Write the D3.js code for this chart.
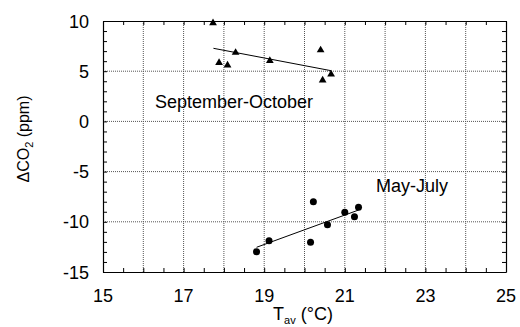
<!DOCTYPE html>
<html>
<head>
<meta charset="utf-8">
<script src="https://cdn.jsdelivr.net/npm/d3@7"></script>
<style>
  body { margin: 0; background: #fff; }
  text { font-family: "Liberation Sans", Arial, sans-serif; fill: #000; }
  .grid line { stroke: #555; stroke-dasharray: 1,1; }
</style>
</head>
<body>
<svg id="chart" width="520" height="327"></svg>
<script>
// Sept-Oct (triangles)
const sepTemp = [17.73, 17.88, 18.09, 18.29, 19.14, 20.40, 20.45, 20.66];
const sepCO2 = [9.8, 5.85, 5.6, 6.85, 6.05, 7.1, 4.1, 4.7];
const sepFit = [[17.74, 7.28], [20.66, 5.05]];

// May-July (circles)
const mayTemp = [18.81, 19.12, 20.15, 20.22, 20.57, 21.0, 21.24, 21.34];
const mayCO2 = [-12.98, -11.88, -12.04, -8.0, -10.3, -9.05, -9.5, -8.56];
const mayFit = [[18.81, -12.54], [21.34, -8.83]];

const xTicks = [15, 17, 19, 21, 23, 25];
const yTicks = [10, 5, 0, -5, -10, -15];

const svg = d3.select('#chart');
const plotL = 103, plotR = 506, plotT = 21, plotB = 272;

const xScale = d3.scaleLinear().domain([15, 25]).range([plotL, plotR]);
const yScale = d3.scaleLinear().domain([-15, 10]).range([plotB, plotT]);

// dotted grid
svg.append('g')
    .attr('class', 'grid')
    .selectAll('line')
    .data(d3.range(16, 25))
    .enter().append('line')
    .attr('x1', d => xScale(d)).attr('x2', d => xScale(d))
    .attr('y1', plotT).attr('y2', plotB);

svg.append('g')
    .attr('class', 'grid')
    .selectAll('line')
    .data([5, 0, -5, -10])
    .enter().append('line')
    .attr('x1', plotL).attr('x2', plotR)
    .attr('y1', d => yScale(d)).attr('y2', d => yScale(d));

// inward ticks on all four sides
const xMinor = d3.range(15, 25.01, 0.5);
const yMinor = d3.range(-15, 10.01, 1);

svg.append('g')
    .attr('transform', 'translate(0,' + plotB + ')')
    .call(d3.axisBottom(xScale).tickValues(xMinor).tickSize(-4).tickSizeOuter(0).tickFormat(''));
svg.append('g')
    .attr('transform', 'translate(0,' + plotT + ')')
    .call(d3.axisTop(xScale).tickValues(xMinor).tickSize(-4).tickSizeOuter(0).tickFormat(''));
svg.append('g')
    .attr('transform', 'translate(' + plotL + ',0)')
    .call(d3.axisLeft(yScale).tickValues(yMinor).tickSize(-4).tickSizeOuter(0).tickFormat(''));
svg.append('g')
    .attr('transform', 'translate(' + plotR + ',0)')
    .call(d3.axisRight(yScale).tickValues(yMinor).tickSize(-4).tickSizeOuter(0).tickFormat(''));

svg.selectAll('.domain').attr('stroke', '#000').attr('stroke-width', 1.2);
svg.selectAll('.tick line').attr('stroke', '#000');

// tick labels
svg.append('g').selectAll('text')
    .data(xTicks)
    .enter().append('text')
    .attr('x', d => xScale(d))
    .attr('y', 302)
    .attr('text-anchor', 'middle')
    .style('font-size', '18px')
    .text(d => d);

svg.append('g').selectAll('text')
    .data(yTicks)
    .enter().append('text')
    .attr('x', 89)
    .attr('y', d => yScale(d) + 6.5)
    .attr('text-anchor', 'end')
    .style('font-size', '18px')
    .text(d => d);

// axis titles
const yTitle = svg.append('text')
    .attr('transform', 'translate(29,' + 139 + ') rotate(-90)')
    .attr('text-anchor', 'middle')
    .style('font-size', '16px');
yTitle.append('tspan').text('\u0394CO');
yTitle.append('tspan').attr('dy', 4).style('font-size', '11px').text('2');
yTitle.append('tspan').attr('dy', -4).text(' (ppm)');

const xTitle = svg.append('text')
    .attr('x', 303)
    .attr('y', 320)
    .attr('text-anchor', 'middle')
    .style('font-size', '18px');
xTitle.append('tspan').text('T');
xTitle.append('tspan').attr('dy', 4).style('font-size', '11px').text('av');
xTitle.append('tspan').attr('dy', -4).text(' (\u00B0C)');

// fit lines
const line = d3.line()
    .x(d => xScale(d[0]))
    .y(d => yScale(d[1]));

svg.append('path').datum(sepFit)
    .attr('d', line).attr('fill', 'none').attr('stroke', '#000').attr('stroke-width', 1);
svg.append('path').datum(mayFit)
    .attr('d', line).attr('fill', 'none').attr('stroke', '#000').attr('stroke-width', 1);

// markers
svg.append('g').selectAll('path')
    .data(sepTemp)
    .enter().append('path')
    .attr('transform', (d, i) => 'translate(' + xScale(d) + ',' + yScale(sepCO2[i]) + ')')
    .attr('d', d3.symbol().type(d3.symbolTriangle).size(26))
    .attr('fill', '#000');

svg.append('g').selectAll('circle')
    .data(mayTemp)
    .enter().append('circle')
    .attr('cx', d => xScale(d))
    .attr('cy', (d, i) => yScale(mayCO2[i]))
    .attr('r', 3.5)
    .attr('fill', '#000');

// series labels
svg.append('text')
    .attr('x', 155).attr('y', 108)
    .style('font-size', '18px')
    .text('September-October');

svg.append('text')
    .attr('x', 376).attr('y', 192)
    .style('font-size', '18px')
    .text('May-July');
</script>
</body>
</html>
